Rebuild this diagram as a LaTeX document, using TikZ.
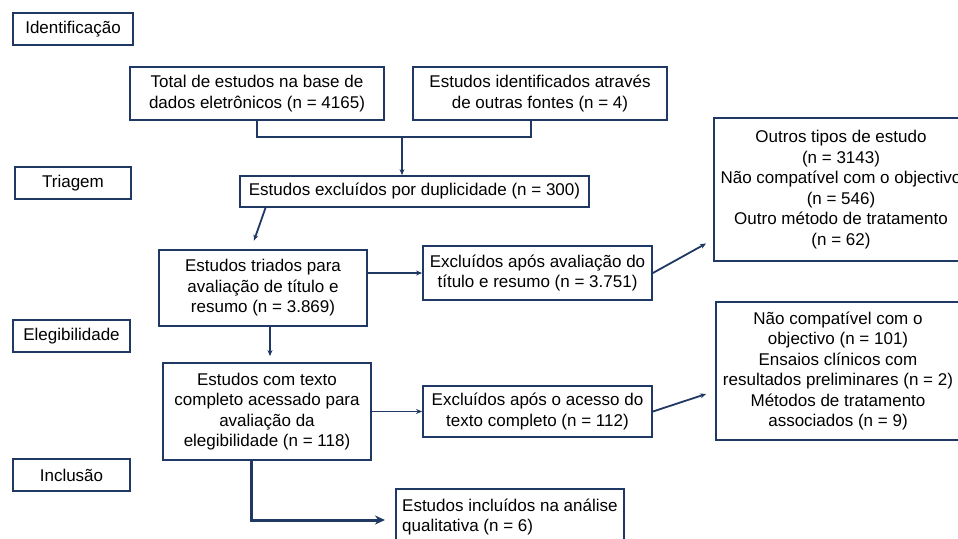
\documentclass[tikz,border=0pt]{standalone}
\usepackage{fontspec}
\setmainfont{Liberation Sans}
\usetikzlibrary{calc,arrows.meta}
\definecolor{navy}{RGB}{31,56,100}
\tikzset{
  stage/.style={draw=navy,line width=2.2pt,minimum height=32pt,inner sep=0pt},
  box/.style={draw=navy,line width=1.8pt,inner sep=0pt,align=center},
  link/.style={draw=navy,line width=1.8pt,-{Stealth[length=6pt,width=5pt]}}
}
\begin{document}
\begin{tikzpicture}[x=1pt,y=-1pt,font=\fontsize{17}{20.5}\selectfont]
    \useasboundingbox (0,0) rectangle (958,538);
    % Stages
    \node[stage,minimum width=120pt] (ident) at (73,29) {Identificação};
    \node[stage,minimum width=116pt] (triagem) at (73,183) {Triagem};
    \node[stage,minimum width=117pt] (eleg) at (71.5,336) {Elegibilidade};
    \node[stage,minimum width=117pt] (inclus) at (71.5,475) {Inclusão};
    % Identification
    \node[box,minimum width=254pt,minimum height=53pt] (total) at (257,93.5)
        {Total de estudos na base de\\dados eletrônicos (n = 4165)};
    \node[box,minimum width=254pt,minimum height=53pt] (outras) at (540,93.5)
        {Estudos identificados através\\de outras fontes (n = 4)};
    \node[box,minimum width=349pt,minimum height=31pt] (dupl) at (414.5,191.5)
        {Estudos excluídos por duplicidade (n = 300)};
    % Screening
    \node[box,minimum width=208pt,minimum height=76pt] (triados) at (263,288)
        {Estudos triados para\\avaliação de título e\\resumo (n = 3.869)};
    \node[box,minimum width=229pt,minimum height=54pt] (excl1) at (537.5,273)
        {Excluídos após avaliação do\\título e resumo (n = 3.751)};
    \node[box,minimum width=254pt,minimum height=143pt] (outros) at (841,189.5)
        {Outros tipos de estudo\\(n = 3143)\\Não compatível com o objectivo\\(n = 546)\\Outro método de tratamento\\(n = 62)};
    % Eligibility
    \node[box,minimum width=208pt,minimum height=97pt] (texto) at (267,411.5)
        {Estudos com texto\\completo acessado para\\avaliação da\\elegibilidade (n = 118)};
    \node[box,minimum width=229pt,minimum height=51pt] (excl2) at (537.5,411.5)
        {Excluídos após o acesso do\\texto completo (n = 112)};
    \node[box,minimum width=244pt,minimum height=138pt] (naocomp) at (838,371)
        {Não compatível com o\\objectivo (n = 101)\\Ensaios clínicos com\\resultados preliminares (n = 2)\\Métodos de tratamento\\associados (n = 9)};
    % Inclusion
    \node[box,minimum width=228pt,minimum height=56pt,inner xsep=2pt,align=left,anchor=north west] (incluidos) at (395,488)
        {Estudos incluídos na análise\\qualitativa (n = 6)};
    % Connectors
    \coordinate (jn) at (402,137);
    \draw[navy,line width=1.8pt] (total.south) |- (jn) -| ([xshift=-9pt]outras.south);
    \draw[link] (jn) -- (jn |- dupl.north);
    \draw[link,shorten >=9pt] ([xshift=-149pt]dupl.south) -- ([xshift=-12pt]triados.north);
    \draw[link] (triados.east |- excl1.west) -- (excl1.west);
    \draw[link] (excl1.east) -- ($(outros.west)+(-7,54)$);
    \draw[link,shorten >=6pt] ([xshift=7pt]triados.south) -- ([xshift=3pt]texto.north);
    \draw[link] (texto.east) -- (excl2.west);
    \draw[link] (excl2.east) -- ($(naocomp.west)+(-9,23)$);
    \draw[link,line width=3pt,-{Stealth[length=10pt,width=9pt]},shorten >=10pt] ([xshift=-16pt]texto.south) |- (incluidos.west |- 0,520);
\end{tikzpicture}
\end{document}
